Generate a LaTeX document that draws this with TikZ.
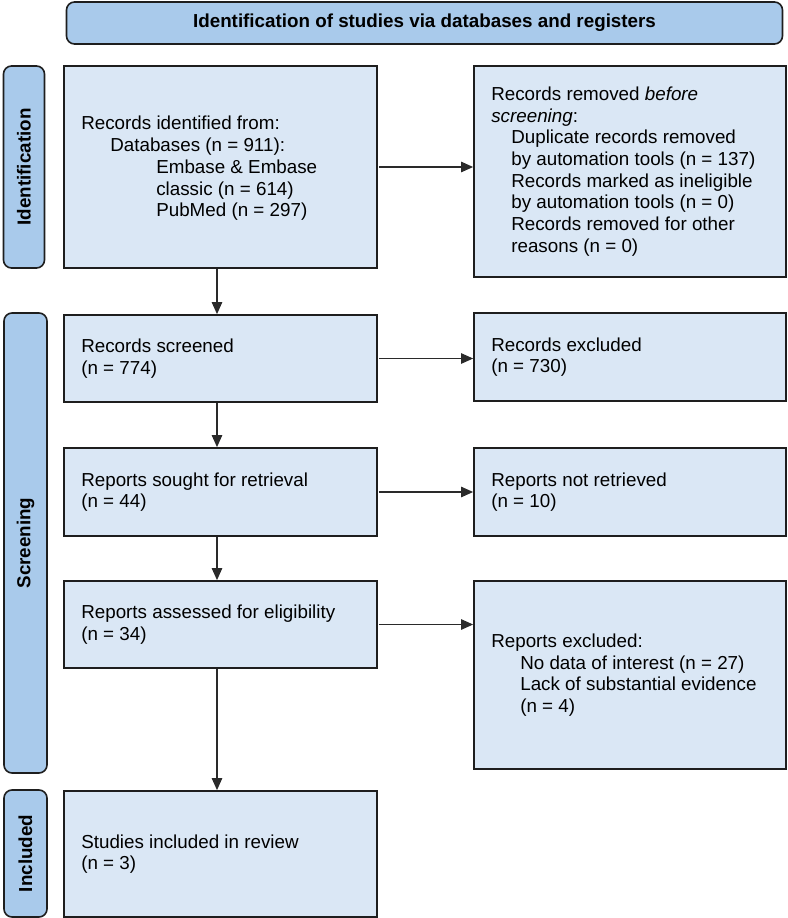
\documentclass[tikz,border=0pt]{standalone}
\usepackage{fontspec}
\setmainfont{Liberation Sans}
\usetikzlibrary{arrows.meta,calc}
\definecolor{barblue}{HTML}{A9CAEB}
\definecolor{boxblue}{HTML}{DAE7F5}
\definecolor{edgecol}{HTML}{1E1E1E}
\definecolor{arrcol}{HTML}{2A2A2A}
\begin{document}
\begin{tikzpicture}[x=1pt,y=-1pt,
  boxstyle/.style={draw=edgecol,line width=1.8pt,fill=boxblue,inner sep=0pt},
  barstyle/.style={draw=edgecol,line width=1.6pt,fill=barblue,rounded corners=8pt,inner sep=0pt},
  txt/.style={anchor=west,align=left,inner sep=0pt,font=\fontsize{18.8}{21.7}\selectfont},
  bartxt/.style={rotate=90,inner sep=0pt,font=\fontsize{18.8}{21.7}\selectfont\bfseries},
  arr/.style={draw=arrcol,line width=1.1pt,-{Triangle[length=12pt,width=10.5pt]}}]
\useasboundingbox (0,0) rectangle (787,918);
% header
\node[barstyle,minimum width=716pt,minimum height=42pt,font=\fontsize{18.8}{21.7}\selectfont\bfseries] (hdr) at (424.5,23) {Identification of studies via databases and registers};
% side bars
\node[barstyle,minimum width=41pt,minimum height=202pt] (barid) at (24,167) {};
\node[bartxt] (labid) at (barid.center) {Identification};
\node[barstyle,minimum width=43pt,minimum height=460pt] (barsc) at (25.5,543) {};
\node[bartxt] (labsc) at (barsc.center) {Screening};
\node[barstyle,minimum width=43pt,minimum height=127pt] (barin) at (25.5,853.5) {};
\node[bartxt] (labin) at (barin.center) {Included};
% left boxes
\node[boxstyle,minimum width=313pt,minimum height=202pt] (b1) at (220.5,167) {};
\node[boxstyle,minimum width=313pt,minimum height=87pt] (b2) at (220.5,358.5) {};
\node[boxstyle,minimum width=313pt,minimum height=88pt] (b3) at (220.5,492) {};
\node[boxstyle,minimum width=313pt,minimum height=87pt] (b4) at (220.5,624.5) {};
\node[boxstyle,minimum width=313pt,minimum height=126pt] (b5) at (220.5,854) {};
% right boxes
\node[boxstyle,minimum width=312pt,minimum height=211pt] (r1) at (630,171.5) {};
\node[boxstyle,minimum width=312pt,minimum height=88pt] (r2) at (630,357) {};
\node[boxstyle,minimum width=312pt,minimum height=88pt] (r3) at (630,492) {};
\node[boxstyle,minimum width=312pt,minimum height=188pt] (r4) at (630,675) {};
% texts
\node[txt] (t1) at ([xshift=18pt,yshift=-1.5pt]b1.west) {Records identified from:\\
\hspace*{29pt}Databases (n = 911):\\
\hspace*{75pt}Embase \& Embase\\
\hspace*{75pt}classic (n = 614)\\
\hspace*{75pt}PubMed (n = 297)};
\node[txt] (t2) at ([xshift=18pt]b2.west) {Records screened\\(n = 774)};
\node[txt] (t3) at ([xshift=18pt]b3.west) {Reports sought for retrieval\\(n = 44)};
\node[txt] (t4) at ([xshift=18pt]b4.west) {Reports assessed for eligibility\\(n = 34)};
\node[txt] (t5) at ([xshift=18pt]b5.west) {Studies included in review\\(n = 3)};
\node[txt] (u1) at ([xshift=18pt]r1.west) {Records removed \textit{before}\\
\textit{screening}:\\
\hspace*{20pt}Duplicate records removed\\
\hspace*{20pt}by automation tools (n = 137)\\
\hspace*{20pt}Records marked as ineligible\\
\hspace*{20pt}by automation tools (n = 0)\\
\hspace*{20pt}Records removed for other\\
\hspace*{20pt}reasons (n = 0)};
\node[txt] (u2) at ([xshift=18pt]r2.west) {Records excluded\\(n = 730)};
\node[txt] (u3) at ([xshift=18pt]r3.west) {Reports not retrieved\\(n = 10)};
\node[txt] (u4) at ([xshift=18pt]r4.west) {Reports excluded:\\
\hspace*{29pt}No data of interest (n = 27)\\
\hspace*{29pt}Lack of substantial evidence\\
\hspace*{29pt}(n = 4)};
% arrows
\draw[arr] ([xshift=-3.5pt]b1.south) -- ([xshift=-3.5pt]b2.north);
\draw[arr] ([xshift=-3.5pt]b2.south) -- ([xshift=-3.5pt]b3.north);
\draw[arr] ([xshift=-3.5pt]b3.south) -- ([xshift=-3.5pt]b4.north);
\draw[arr] ([xshift=-3.5pt]b4.south) -- ([xshift=-3.5pt]b5.north);
\draw[arr] ([xshift=1pt]b1.east) -- (b1.east -| r1.west);
\draw[arr] ([xshift=1pt]b2.east) -- (b2.east -| r2.west);
\draw[arr] ([xshift=1pt]b3.east) -- (b3.east -| r3.west);
\draw[arr] ([xshift=1pt]b4.east) -- (b4.east -| r4.west);
\end{tikzpicture}
\end{document}
